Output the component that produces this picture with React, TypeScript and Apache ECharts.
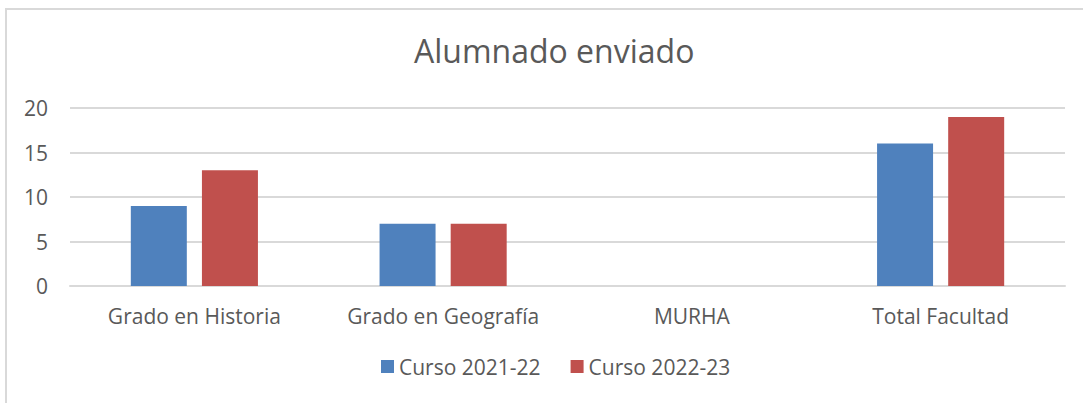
import React, { useEffect, useRef } from "react";
import * as echarts from "echarts";

const categories = ["Grado en Historia", "Grado en Geografía", "MURHA", "Total Facultad"];
const curso2021 = [9, 7, 0, 16];
const curso2022 = [13, 7, 0, 19];
const seriesNames = ["Curso 2021-22", "Curso 2022-23"];
const titleText = "Alumnado enviado";

const FONT = "'Open Sans', sans-serif";
const TXT = "#595959";

export default function App() {
  const ref = useRef<HTMLDivElement>(null);
  useEffect(() => {
    if (!ref.current) return;
    const chart = echarts.init(ref.current, null, { renderer: "svg" });
    chart.setOption({
      animation: false,
      backgroundColor: "#ffffff",
      title: {
        text: titleText,
        left: 409,
        top: 29,
        textStyle: { fontFamily: FONT, fontSize: 32, fontWeight: "normal", color: TXT },
      },
      graphic: [
        {
          type: "rect",
          shape: { x: 6, y: 9, width: 1100, height: 420 },
          style: { fill: "none", stroke: "#d9d9d9", lineWidth: 2 },
          silent: true,
        },
      ],
      legend: {
        bottom: 21,
        left: 376,
        itemWidth: 13,
        itemHeight: 13,
        itemGap: 30,
        icon: "rect",
        textStyle: { fontFamily: FONT, fontSize: 21, color: TXT },
        data: seriesNames,
      },
      grid: { left: 70, right: 18, top: 108, bottom: 117 },
      xAxis: {
        type: "category",
        data: categories,
        axisLine: { lineStyle: { color: "#d9d9d9", width: 2 } },
        axisTick: { show: false },
        axisLabel: { fontFamily: FONT, fontSize: 21, color: TXT, margin: 19, interval: 0 },
      },
      yAxis: {
        type: "value",
        min: 0,
        max: 20,
        interval: 5,
        axisLine: { show: false },
        axisTick: { show: false },
        axisLabel: { fontFamily: FONT, fontSize: 21, color: TXT, margin: 22 },
        splitLine: { lineStyle: { color: "#d9d9d9", width: 2 } },
      },
      series: [
        {
          name: seriesNames[0],
          type: "bar",
          data: curso2021,
          barWidth: 56,
          barGap: "27%",
          itemStyle: { color: "#4F81BD" },
        },
        {
          name: seriesNames[1],
          type: "bar",
          data: curso2022,
          barWidth: 56,
          barGap: "27%",
          itemStyle: { color: "#C0504D" },
        },
      ],
    });
    return () => chart.dispose();
  }, []);
  return (
    <div
      ref={ref}
      style={{ position: "fixed", left: 0, top: 0, width: 1083, height: 403 }}
    />
  );
}
